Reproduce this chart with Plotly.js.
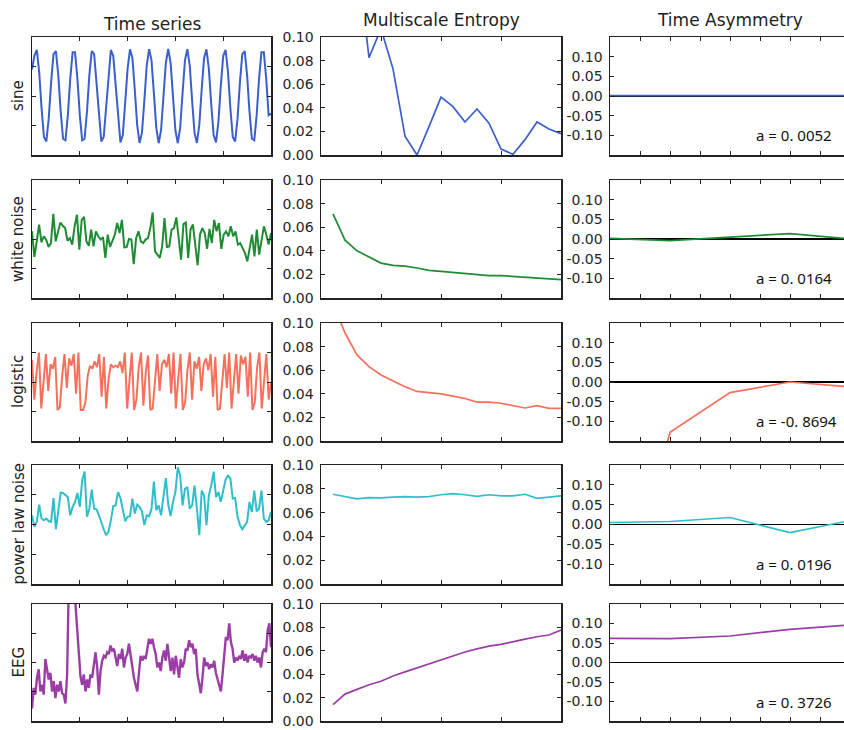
<!DOCTYPE html>
<html>
<head>
<meta charset="utf-8">
<script src="https://cdn.plot.ly/plotly-3.0.1.min.js"></script>
<style>html,body{margin:0;padding:0;background:#fff;} #chart{width:844px;height:730px;}</style>
</head>
<body>
<div id="chart"></div>
<script>
// ---------------- DATA ----------------
const rowNames = ["sine", "white noise", "logistic", "power law noise", "EEG"];
const colTitles = ["Time series", "Multiscale Entropy", "Time Asymmetry"];
const colors = ["#3b5fcc", "#1f8c34", "#f7705c", "#2ebfca", "#9a3ea6"];

const tsSine = [0.9,1.36,1.56,0.82,-0.41,-1.39,-1.54,-0.76,0.47,1.42,1.52,0.71,-0.53,-1.45,-1.50,-0.65,0.59,1.48,1.48,0.59,
-0.65,-1.50,-1.45,-0.53,0.71,1.52,1.42,0.47,-0.76,-1.54,-1.39,-0.41,0.82,1.56,1.36,0.35,-0.87,-1.57,-1.32,-0.28,
0.92,1.58,1.29,0.22,-0.98,-1.59,-1.25,-0.16,1.03,1.59,1.21,0.09,-1.07,-1.60,-1.16,-0.03,1.12,1.60,1.12,-0.03,
-1.16,-1.60,-1.07,0.10,1.21,1.59,1.03,-0.16,-1.25,-1.59,-0.98,0.22,1.29,1.58,0.92,-0.29,-1.32,-1.57,-0.87,0.35,
1.36,1.56,0.82,-0.41,-1.39,-1.54,-0.76,0.47,1.42,1.52,0.71,-0.53,-1.45,-1.50,-0.65,0.59,1.48,1.48,0.59,-0.65,-0.6];

const tsWhite = [0.26,-0.61,-0.08,0.49,-0.11,0.09,-0.02,-0.27,-0.14,0.85,-0.08,0.2,0.56,0.45,0.37,-0.06,0.03,-0.19,0.43,0.82,
-0.36,0.65,0.75,-0.08,-0.23,0.32,-0.25,0.26,0.09,-0.02,0.06,-0.64,0.15,-0.27,-0.02,0.15,0.54,0.2,0.65,-0.28,
-0.27,0,-0.02,-0.85,0.03,0.26,-0.08,-0.14,-0.02,0.03,0.37,0.9,-0.42,-0.53,-0.64,-0.25,0.71,-0.27,-0.25,0.32,
0.37,0.73,0.03,-0.7,0.51,0.56,-0.64,0.32,0.49,-0.14,-0.89,0.15,0.37,0.2,-0.33,0.34,-0.14,0.65,0.26,0.54,
-0.34,0.15,0.26,0.09,0.43,0.09,0.26,-0.19,-0.14,-0.31,-0.47,-0.76,-0.25,0.15,-0.59,0.32,-0.53,-0.08,0.43,0.15,
-0.19,0.2];

const tsLogistic = [0.75,-0.6,0.35,1.0,-0.9,0.1,0.95,-0.3,0.6,0.45,0.85,-0.95,-0.85,0.2,0.95,-0.2,0.8,0.55,0.95,-0.4,
1.0,-0.95,-0.95,-0.7,0.2,0.55,0.45,0.7,0.5,0.95,-0.5,0.85,-0.9,0.1,0.6,0.5,0.55,0.5,0.7,0.3,
1.0,-0.9,0.0,1.0,-0.95,-0.6,0.5,1.0,-0.8,0.3,0.9,-0.95,-0.9,0.2,0.95,-0.3,0.6,0.75,0.5,0.95,
-0.4,1.0,-0.9,0.1,0.95,-0.95,-0.7,0.4,1.0,-0.6,0.7,0.45,0.85,-0.3,0.6,0.8,0.4,0.95,-0.5,0.85,
-0.95,-0.9,0.1,0.95,-0.2,1.0,-0.9,0.2,0.95,-0.4,0.9,0.6,0.85,-0.5,1.0,-0.95,-0.7,0.5,1.0,-0.9,
0.2,0.95,-0.6,0.0];

const tsPower = [0.31,-0.08,0.09,0.67,0.2,0.14,0.2,0.11,0.09,0.89,-0.16,0.42,1.07,1.06,1.0,0.92,0.31,0.59,0.76,1.06,
0.59,1.48,1.78,0.26,0.53,1.17,0.53,0.51,0.31,0.03,-0.16,-0.36,-0.24,0.14,0.62,0.64,1.09,0.89,0.53,0.11,
0.26,0.28,0.87,0.37,0.67,0.59,0.44,-0.02,0.31,0.28,0.53,1.44,0.48,0.64,0.31,0.87,1.56,0.67,0.28,0.76,
1.09,1.92,1.64,0.64,1.2,1.26,0.53,0.64,1.31,0.53,-0.36,1.14,0.98,-0.02,0.98,1.31,1.78,0.92,1.09,0.76,
1.14,1.51,1.64,1.56,0.87,0.89,0.26,-0.02,-0.16,-0.02,0.09,0.76,0.42,1.14,0.44,0.53,1.14,0.2,0.09,0.14,
0.42];

const tsEEG = [-1.57,-0.87,-1.1,-0.52,-0.23,-0.99,-0.76,-1.1,0.12,-0.17,-0.58,-0.35,-0.99,-0.64,-1.22,-0.76,-0.99,-0.64,-1.05,-1.1,
-1.4,-0.41,2.6,2.8,2.6,2.3,2.0,1.1,0.17,-0.47,-0.76,-0.41,-0.99,-0.58,-0.87,-0.41,-0.52,-0.06,0.35,-0.17,
-1.1,-0.29,0.06,0.23,0.17,0.35,0.29,0.58,0.41,0.47,0.17,-0.12,0.29,0.12,0.47,-0.17,0.17,0.29,0.64,0.23,
0,-0.52,-0.76,-0.99,-0.35,0.23,0.06,0.23,0.12,0.41,0.81,0.64,0.81,0.52,0.29,-0.17,0,-0.29,0.17,0.41,
0.06,0.64,0.17,-0.29,0.17,-0.41,0.23,-0.12,-0.52,0.12,-0.17,0,0.47,0.41,0.76,0.52,0.64,0.29,0.47,-0.41,
-0.76,-1.05,-0.52,0.17,-0.12,0,-0.23,-0.06,-0.17,0.06,-0.35,-0.58,-0.76,-0.99,-0.41,0.41,0.87,0.76,1.34,0.7,
0.47,0,0.17,0.06,0.23,0.12,0.41,0.06,0.29,0,0.23,0.17,0.29,0.06,0.23,0,0.17,-0.17,0.35,0.47,
0.35,1.1,1.34,0.52];

const mseScales = [1,2,3,4,5,6,7,8,9,10,11,12,13,14,15,16,17,18,19,20];
const mseSine = [0.30,0.25,0.17,0.0825,0.107,0.073,0.016,0.0,0.024,0.049,0.041,0.028,0.039,0.027,0.005,0.0006,0.013,0.028,0.022,0.018];
const mseWhite = [0.0713,0.049,0.040,0.0346,0.0296,0.0276,0.027,0.0254,0.0234,0.0225,0.0217,0.021,0.0197,0.019,0.019,0.0183,0.018,0.0172,0.0163,0.0155];
const mseLogistic = [0.117,0.0915,0.073,0.063,0.056,0.051,0.046,0.042,0.041,0.040,0.038,0.036,0.033,0.033,0.032,0.030,0.028,0.030,0.0276,0.0276];
const msePower = [0.0754,0.0735,0.0715,0.0726,0.0723,0.073,0.0735,0.073,0.0735,0.075,0.076,0.075,0.0737,0.075,0.074,0.074,0.0754,0.072,0.073,0.074];
const mseEEG = [0.014,0.023,0.027,0.031,0.034,0.0385,0.042,0.0455,0.049,0.0525,0.056,0.059,0.0617,0.064,0.0655,0.068,0.070,0.072,0.0735,0.0777];

const asymScales = [1,2,3,4,5];
const asymSine = [0.001,0.001,0.001,0.001,0.0012];
const asymWhite = [0.0017,-0.004,0.005,0.0137,0.0];
const asymLogistic = [-0.7014,-0.128,-0.027,0.0,-0.0126];
const asymPower = [0.005,0.0076,0.0176,-0.0206,0.010];
const asymEEG = [0.062,0.061,0.068,0.085,0.0966];
const asymLabels = ["a = 0. 0052", "a = 0. 0164", "a = -0. 8694", "a = 0. 0196", "a = 0. 3726"];

const mseTicks = [0, 0.02, 0.04, 0.06, 0.08, 0.10];
const mseTickText = ["0.00", "0.02", "0.04", "0.06", "0.08", "0.10"];
const asymTicks = [-0.10, -0.05, 0.00, 0.05, 0.10];
const asymTickText = ["-0.10", "-0.05", "0.00", "0.05", "0.10"];

// ---------------- LAYOUT ----------------
const W = 844, H = 730;
const rowTop = [37, 180, 323, 465, 604];
const rowBot = [155, 298, 441, 584, 721];
const colLeft = [32, 321, 610];
const colRight = [271, 561, 844];

const tsList = [tsSine, tsWhite, tsLogistic, tsPower, tsEEG];
const mseList = [mseSine, mseWhite, mseLogistic, msePower, mseEEG];
const asymList = [asymSine, asymWhite, asymLogistic, asymPower, asymEEG];

const axColor = "#222";
const tickFont = {family: "DejaVu Sans", size: 14, color: "#262626"};

const traces = [];
const layout = {
  width: W, height: H,
  margin: {l: 0, r: 0, t: 0, b: 0},
  paper_bgcolor: "#fff", plot_bgcolor: "#fff",
  showlegend: false,
  annotations: []
};

function baseAxis() {
  return {showline: true, linecolor: axColor, linewidth: 1.5, ticks: "inside", ticklen: 4,
          tickwidth: 1, tickcolor: axColor, showgrid: false, zeroline: false, tickfont: tickFont,
          fixedrange: true, ticklabeloverflow: "allow"};
}

for (let r = 0; r < 5; r++) {
  for (let c = 0; c < 3; c++) {
    const k = r * 3 + c + 1;
    const xn = "xaxis" + (k === 1 ? "" : k), yn = "yaxis" + (k === 1 ? "" : k);
    const xa = baseAxis(), ya = baseAxis();
    xa.domain = [colLeft[c] / W, colRight[c] / W];
    ya.domain = [1 - rowBot[r] / H, 1 - rowTop[r] / H];
    xa.anchor = "y" + (k === 1 ? "" : k);
    ya.anchor = "x" + (k === 1 ? "" : k);
    xa.mirror = "ticks";
    xa.showticklabels = false;
    let xs, ys;
    if (c === 0) {
      const data = tsList[r];
      xs = data.map((_, i) => i * 100 / (data.length - 1));
      ys = data;
      xa.range = [0, 100]; xa.tickvals = [20, 40, 60, 80];
      ya.range = [-2, 2]; ya.tickvals = [-1, 0, 1];
      ya.mirror = "ticks"; ya.showticklabels = false;
    } else if (c === 1) {
      xs = mseScales; ys = mseList[r];
      xa.range = [0, 20]; xa.tickvals = [5, 10, 15];
      ya.range = [0, 0.1]; ya.tickvals = mseTicks; ya.ticktext = mseTickText;
      ya.mirror = "ticks"; ya.ticklabelstandoff = 3;
    } else {
      xs = asymScales; ys = asymList[r];
      xa.range = [1, 1 + (colRight[2] - colLeft[2]) / 60]; xa.tickvals = [1.5, 2, 2.5, 3, 3.5, 4, 4.5];
      ya.range = [-0.15, 0.15]; ya.tickvals = asymTicks; ya.ticktext = asymTickText;
      ya.mirror = false; ya.ticklabelstandoff = 3;
      ya.zeroline = true; ya.zerolinecolor = "#000"; ya.zerolinewidth = 1.3;
      layout.annotations.push({
        xref: "x" + k, yref: "y" + k, x: 3.4, y: -0.10, xanchor: "left", yanchor: "middle",
        text: asymLabels[r], showarrow: false,
        font: {family: "Noto Sans", size: 15, color: "#111"}
      });
    }
    layout[xn] = xa; layout[yn] = ya;
    traces.push({
      type: "scatter", mode: "lines", x: xs, y: ys,
      xaxis: "x" + (k === 1 ? "" : k), yaxis: "y" + (k === 1 ? "" : k),
      line: {color: colors[r], width: c === 0 ? (r === 4 ? 2.4 : 2) : 1.7},
      hoverinfo: "skip"
    });
  }
  // row label
  layout.annotations.push({
    xref: "paper", yref: "paper", x: 18 / W, y: 1 - (rowTop[r] + rowBot[r]) / 2 / H,
    xanchor: "center", yanchor: "middle", textangle: -90, showarrow: false,
    text: rowNames[r], font: {family: "DejaVu Sans", size: 15, color: "#222"}
  });
}
// column titles
const titleY = [24, 20, 20];
const titleX = [(32 + 271) / 2, (321 + 561) / 2, 730];
for (let c = 0; c < 3; c++) {
  layout.annotations.push({
    xref: "paper", yref: "paper", x: titleX[c] / W, y: 1 - titleY[c] / H,
    xanchor: "center", yanchor: "middle", showarrow: false,
    text: colTitles[c], font: {family: "DejaVu Sans", size: 17, color: "#222"}
  });
}

Plotly.newPlot("chart", traces, layout, {displayModeBar: false, staticPlot: true});
</script>
</body>
</html>
